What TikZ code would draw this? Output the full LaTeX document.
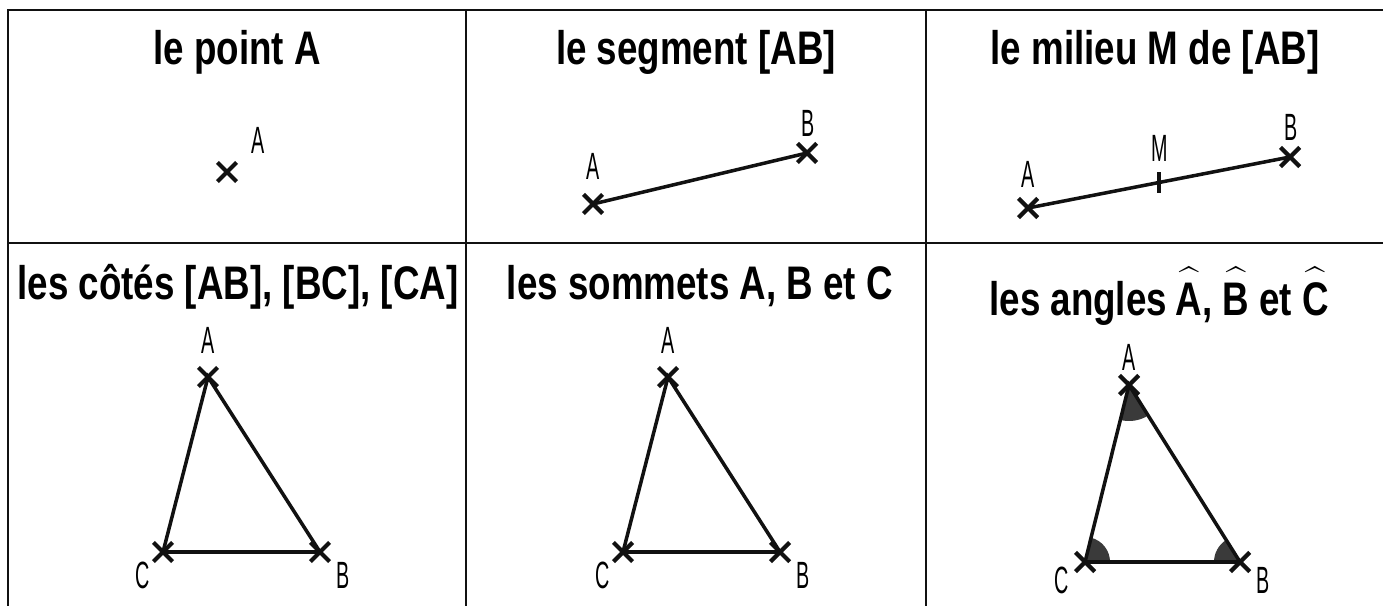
\documentclass[tikz,border=0pt]{standalone}
\usepackage{fontspec}
\setmainfont{Liberation Sans}
\newfontfamily\headfont[FakeStretch=0.78]{Liberation Sans}
\newfontfamily\ptfont[FakeStretch=0.52]{Liberation Sans}
\usetikzlibrary{shapes.misc,angles}
\definecolor{ink}{HTML}{111111}
\definecolor{anglegray}{HTML}{3A3A3A}

\begin{document}
\begin{tikzpicture}[x=0.01cm,y=0.01cm,
  head/.style={anchor=base,inner sep=0pt,font=\headfont\bfseries\fontsize{13.4}{16}\selectfont},
  lbl/.style={inner sep=0pt,font=\ptfont\fontsize{10.8}{12}\selectfont},
  xmark/.style={cross out,draw=ink,line width=1.2pt,minimum size=0.15cm,inner sep=0pt},
  seg/.style={draw=ink,line width=1pt},
  tabline/.style={draw=ink,line width=0.6pt},
  sector/.style={fill=anglegray,draw=none}]
\useasboundingbox (0,0) rectangle (1383,606);
% table
\draw[tabline] (1383,596) -- (8,596) -- (8,0);
\draw[tabline] (8,363) -- (1383,363);
\draw[tabline] (466,596) -- (466,0);
\draw[tabline] (926,596) -- (926,0);
% headings
\node[head] (h1) at (237,541) {le point A};
\node[head] (h2) at (696,541) {le segment [AB]};
\node[head] (h3) at (1155,541) {le milieu M de [AB]};
\node[head] (h4) at (238,306) {les côtés [AB], [BC], [CA]};
\node[head] (h5) at (700,306) {les sommets A, B et C};
\node[head] (h6) at (1159,291) {les angles$\,\widehat{\mbox{\rule{0pt}{10.6pt}A}}$, $\widehat{\mbox{\rule{0pt}{10.6pt}B}}$ et $\widehat{\mbox{\rule{0pt}{10.6pt}C}}$};

% le point A
\node[xmark] (pA) at (227,434) {};
\node[lbl] (lpA) at (258,466) {A};

% le segment
\node[xmark] (sA) at (593,402) {};
\node[xmark] (sB) at (807,453) {};
\draw[seg] (sA.center) -- (sB.center);
\node[lbl] (lsA) at (593,440) {A};
\node[lbl] (lsB) at (808,483) {B};

% le milieu
\node[xmark] (mA) at (1028,398) {};
\node[xmark] (mB) at (1290,449) {};
\draw[seg] (mA.center) -- coordinate[pos=0.5] (mM) (mB.center);
\draw[seg] ([yshift=-0.1cm]mM) -- ([yshift=0.1cm]mM);
\node[lbl] (lmA) at (1028,432) {A};
\node[lbl] (lmM) at (1160,458) {M};
\node[lbl] (lmB) at (1291,479) {B};

% triangles
\foreach \t/\dx in {t/0,u/460}{
  \node[xmark] (\t A) at (208+\dx,229) {};
  \node[xmark] (\t B) at (320+\dx,54) {};
  \node[xmark] (\t C) at (163+\dx,54) {};
  \draw[seg] (\t A.center) -- (\t B.center) -- (\t C.center) -- cycle;
  \node[lbl] (l\t A) at (208+\dx,266) {A};
  \node[lbl] (l\t B) at (343+\dx,31) {B};
  \node[lbl] (l\t C) at (143+\dx,31) {C};
}

% les angles
\node[xmark] (vA) at (1129,221) {};
\node[xmark] (vB) at (1240,44) {};
\node[xmark] (vC) at (1085,44) {};
\pic[sector,angle radius=0.36cm] {angle=vC--vA--vB};
\pic[sector,angle radius=0.25cm] {angle=vB--vC--vA};
\pic[sector,angle radius=0.26cm] {angle=vA--vB--vC};
\draw[seg] (vA.center) -- (vB.center) -- (vC.center) -- cycle;
\node[lbl] (lvA) at (1129,249) {A};
\node[lbl] (lvB) at (1263,26) {B};
\node[lbl] (lvC) at (1062,26) {C};
\end{tikzpicture}
\end{document}
